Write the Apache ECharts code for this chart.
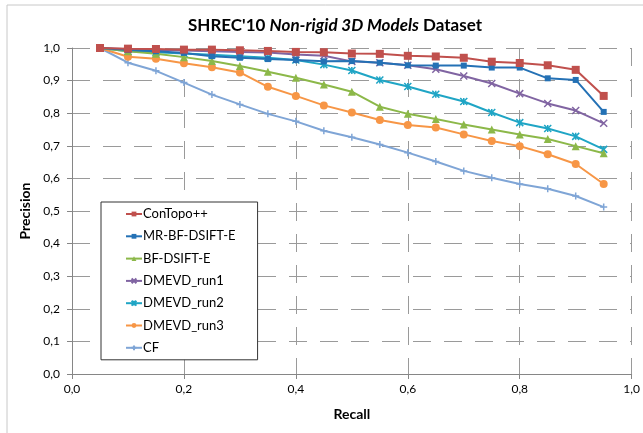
<!DOCTYPE html>
<html><head><meta charset="utf-8">
<script src="https://cdn.jsdelivr.net/npm/echarts@6/dist/echarts.min.js"></script>
<style>html,body{margin:0;padding:0;background:#fff}#c{width:643px;height:433px}</style>
</head><body><div id="c"></div>
<script>
const recall = [0.05,0.1,0.15,0.2,0.25,0.3,0.35,0.4,0.45,0.5,0.55,0.6,0.65,0.7,0.75,0.8,0.85,0.9,0.95];
const conTopo = [1.0,0.998,0.997,0.995,0.995,0.993,0.991,0.988,0.987,0.983,0.982,0.976,0.974,0.970,0.958,0.954,0.947,0.933,0.853];
const mrBfDsift = [1.0,0.994,0.99,0.985,0.975,0.97,0.966,0.963,0.959,0.96,0.955,0.947,0.946,0.946,0.940,0.940,0.907,0.902,0.804];
const bfDsift = [1.0,0.99,0.982,0.972,0.96,0.945,0.927,0.909,0.888,0.866,0.82,0.798,0.782,0.765,0.75,0.735,0.721,0.699,0.677];
const run1 = [1.0,0.996,0.994,0.992,0.99,0.988,0.986,0.98,0.976,0.959,0.955,0.947,0.935,0.914,0.891,0.86,0.83,0.808,0.769];
const run2 = [1.0,0.99,0.987,0.983,0.979,0.975,0.970,0.963,0.949,0.931,0.902,0.882,0.858,0.836,0.802,0.771,0.753,0.729,0.689];
const run3 = [1.0,0.973,0.967,0.953,0.941,0.925,0.881,0.853,0.824,0.802,0.779,0.764,0.756,0.735,0.715,0.699,0.674,0.644,0.583];
const cf = [1.0,0.955,0.930,0.894,0.857,0.827,0.798,0.775,0.746,0.726,0.704,0.679,0.652,0.623,0.602,0.583,0.568,0.546,0.512];
const names = ['ConTopo++','MR-BF-DSIFT-E','BF-DSIFT-E','DMEVD_run1','DMEVD_run2','DMEVD_run3','CF'];
const values = [conTopo, mrBfDsift, bfDsift, run1, run2, run3, cf];

const styles = [
  {color:'#C0504D', symbol:'rect', size:8},
  {color:'#2471B5', symbol:'rect', size:6},
  {color:'#8CB849', symbol:'triangle', size:8},
  {color:'#8064A2', symbol:'path://M0,0L10,10M10,0L0,10', size:7, stroke:true},
  {color:'#1FA5C5', symbol:'path://M0,0L10,10M10,0L0,10M5,0L5,10', size:7, stroke:true},
  {color:'#F79646', symbol:'circle', size:8},
  {color:'#7FA5D6', symbol:'path://M5,0L5,10M0,5L10,5', size:7, stroke:true}
];

const FONT = 'Lato';
const series = names.map((n,k)=>({
  name:n, type:'line',
  data: recall.map((r,i)=>[r, values[k][i]]),
  symbol: styles[k].symbol, symbolSize: styles[k].size,
  lineStyle:{color:styles[k].color, width:2},
  itemStyle: styles[k].stroke ? {color:'rgba(0,0,0,0)', borderColor:styles[k].color, borderWidth:1.5}
                             : {color:styles[k].color, borderColor:styles[k].color, borderWidth:0},
  color: styles[k].color,
  z: 10 - k
}));

const fmt = v => v.toFixed(1).replace('.', ',');
const gridLine = {show:true, lineStyle:{color:'#9a9a9a', width:1, type:[18,13]}};

const chart = echarts.init(document.getElementById('c'), null, {renderer:'canvas'});
chart.setOption({
  animation:false,
  backgroundColor:'#fff',
  graphic:[{type:'rect', shape:{x:7,y:5,width:640,height:430}, style:{fill:'none', stroke:'#c8c8c8', lineWidth:1}, silent:true}],
  title:{
    text:'{b|SHREC\'10 }{i|Non-rigid 3D Models}{b| Dataset}',
    left:330, top:12, textAlign:'center',
    textStyle:{rich:{
      b:{fontFamily:FONT, fontSize:17, fontWeight:'bold', color:'#000'},
      i:{fontFamily:FONT, fontSize:17, fontWeight:'bold', fontStyle:'italic', color:'#000'}
    }}
  },
  legend:{
    orient:'vertical', left:101, top:202,
    data:names,
    itemWidth:16, itemHeight:6, itemGap:8.3,
    padding:[5,22,5,24],
    borderColor:'#333', borderWidth:1, backgroundColor:'#fff',
    textStyle:{fontFamily:FONT, fontSize:13, lineHeight:14, color:'#000', padding:[0,0,0,-4]}
  },
  grid:{left:72, right:10, top:48, bottom:59, containLabel:false},
  xAxis:{
    type:'value', min:0, max:1, interval:0.2,
    name:'Recall', nameLocation:'middle', nameGap:33,
    nameTextStyle:{fontFamily:FONT, fontSize:14, fontWeight:'bold', color:'#000'},
    axisLine:{show:true, lineStyle:{color:'#868686'}},
    axisTick:{show:true, length:5, lineStyle:{color:'#868686'}},
    axisLabel:{formatter:fmt, fontFamily:FONT, fontSize:12, color:'#000', margin:9},
    splitLine:gridLine
  },
  yAxis:{
    type:'value', min:0, max:1, interval:0.1,
    name:'Precision', nameLocation:'middle', nameGap:30,
    nameTextStyle:{fontFamily:FONT, fontSize:14, fontWeight:'bold', color:'#000', verticalAlign:'middle'},
    axisLine:{show:true, lineStyle:{color:'#868686'}},
    axisTick:{show:true, length:5, lineStyle:{color:'#868686'}},
    axisLabel:{formatter:fmt, fontFamily:FONT, fontSize:12, color:'#000', margin:12},
    splitLine:gridLine
  },
  series
});
</script></body></html>
